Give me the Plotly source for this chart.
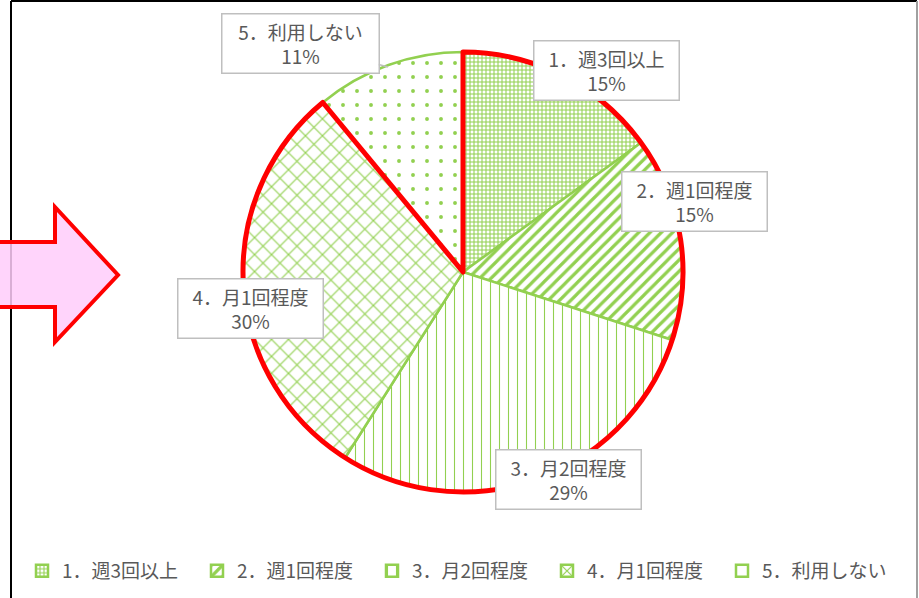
import plotly.graph_objects as go

W, H = 919, 598

labels = ["1．週3回以上", "2．週1回程度", "3．月2回程度", "4．月1回程度", "5．利用しない"]
values = [15, 15, 29, 30, 11]
pct_text = ["15%", "15%", "29%", "30%", "11%"]

GREEN = "#92D050"
TXT = "#595959"
FONT = "Noto Sans CJK JP"

shapes_pat = ["+", "/", "|", "x", "."]
sizes_pat = [4, 8, 9, 12, 14]
solid_pat = [0.45, 0.4, 0.12, 0.18, 0.06]


def px(x):
    return x / W


def py(y):
    return 1 - y / H


cx, cy, r = 463, 272, 220
dom_x = [px(cx - r), px(cx + r)]
dom_y = [py(cy + r), py(cy - r)]

fig = go.Figure()
fig.add_trace(go.Pie(
    labels=labels, values=values, sort=False, direction="clockwise", rotation=0,
    textinfo="none", hoverinfo="label+percent",
    domain=dict(x=dom_x, y=dom_y),
    marker=dict(
        colors=["white"] * 5,
        line=dict(color=GREEN, width=2.5),
        pattern=dict(shape=shapes_pat, size=sizes_pat, solidity=solid_pat,
                     fgcolor=GREEN, fgopacity=1, bgcolor="white", fillmode="replace"),
    ),
))

# red highlight outline of items 1-4
hl_values = [sum(values[:4]), values[4]]
fig.add_trace(go.Pie(
    labels=["hl", "rest"], values=hl_values, sort=False, direction="clockwise", rotation=0,
    textinfo="none", hoverinfo="skip", showlegend=False,
    domain=dict(x=dom_x, y=dom_y),
    marker=dict(colors=["rgba(0,0,0,0)", "rgba(0,0,0,0)"],
                line=dict(color=["#FF0000", "rgba(0,0,0,0)"], width=[5, 0])),
))

# label boxes (pixel centers)
label_pos = [(606, 70), (694, 201), (568, 479), (250, 308), (300, 43)]
box_w = [138, 138, 138, 138, 150]
annotations = []
for i, (lx, ly) in enumerate(label_pos):
    a = dict(
        xref="paper", yref="paper", x=px(lx), y=py(ly),
        xanchor="center", yanchor="middle",
        text=f"{labels[i]}<br>{pct_text[i]}", showarrow=False,
        font=dict(family=FONT, size=19, color=TXT),
        bgcolor="white", bordercolor="#BFBFBF", borderwidth=1.5, borderpad=3,
        align="center", width=box_w[i],
    )
    if i == 4:
        a.update(showarrow=True, x=px(388), y=py(67), ax=lx - 388, ay=ly - 67,
                 arrowhead=0, arrowcolor="#BFBFBF", arrowwidth=1.5, axref="pixel", ayref="pixel")
    annotations.append(a)

# pink block arrow on the left
pts = [(-5, 242), (55, 242), (55, 207), (118, 275), (55, 342), (55, 307), (-5, 307)]
path = "M " + " L ".join(f"{px(x):.5f},{py(y):.5f}" for x, y in pts) + " Z"

shapes = [
    dict(type="line", xref="paper", yref="paper", x0=px(11), x1=px(11), y0=py(1), y1=py(610),
         line=dict(color="black", width=2)),
    dict(type="line", xref="paper", yref="paper", x0=px(11), x1=px(917), y0=py(1), y1=py(1),
         line=dict(color="black", width=2)),
    dict(type="line", xref="paper", yref="paper", x0=px(917), x1=px(917), y0=py(1), y1=py(610),
         line=dict(color="#A0A0A0", width=2)),
    dict(type="path", xref="paper", yref="paper", path=path,
         fillcolor="rgba(255,204,250,0.85)", line=dict(color="#FF0000", width=4)),
]

fig.update_layout(
    width=W, height=H, margin=dict(l=0, r=0, t=0, b=0),
    paper_bgcolor="white", plot_bgcolor="white",
    font=dict(family=FONT, color=TXT),
    showlegend=True,
    legend=dict(orientation="h", x=0.5, xanchor="center", y=py(571), yanchor="middle",
                font=dict(family=FONT, size=19, color=TXT),
                entrywidth=130, entrywidthmode="pixels", itemwidth=30,
                traceorder="normal"),
    annotations=annotations, shapes=shapes,
)

fig.write_html("out.html", config={"displayModeBar": False},
               post_script="document.body.style.margin='0';document.body.style.overflow='hidden';")
